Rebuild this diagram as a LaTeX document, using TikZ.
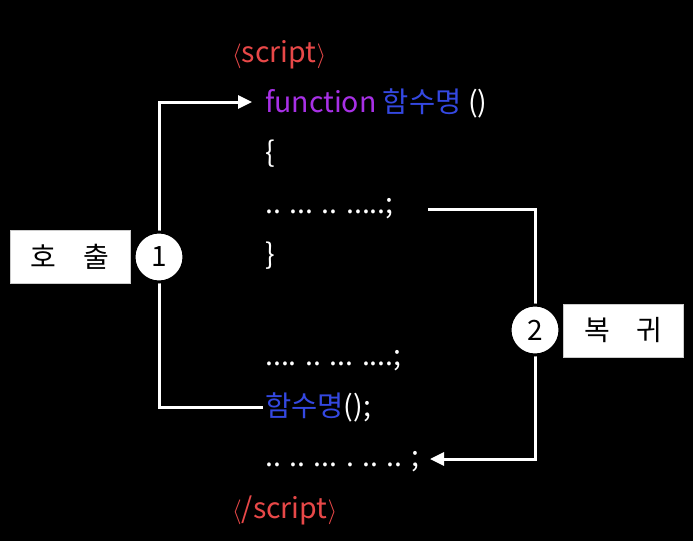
\documentclass[tikz,border=0pt]{standalone}
\usepackage{fontspec}
\setmainfont{Noto Sans CJK KR}
\usetikzlibrary{arrows.meta}
\definecolor{tagred}{RGB}{232,72,72}
\definecolor{fpurple}{RGB}{168,48,230}
\definecolor{fblue}{RGB}{52,72,225}
\begin{document}
\begin{tikzpicture}[x=1pt,y=-1pt]
\fill[black] (0,0) rectangle (693,541);
\useasboundingbox (0,0) rectangle (693,541);
\tikzset{
  code/.style={anchor=base west, inner sep=0pt, font=\fontsize{28.5}{30}\selectfont, text=white},
  conn/.style={draw=white, line width=3pt},
  tip/.style={-{Triangle[length=14pt,width=13pt]}},
  circ/.style={circle, fill=white, draw=black, line width=3pt, minimum size=50pt, inner sep=0pt, font=\fontsize{28}{30}\selectfont, text=black},
  lbl/.style={rectangle, fill=white, draw=gray!40, line width=0.8pt, minimum width=120pt, minimum height=53pt, inner sep=0pt, font=\fontsize{28}{30}\selectfont, text=black}
}
% code lines
\node[code, text=tagred] (s1) at (232,62) {$\langle$script$\rangle$};
\node[code] (fn) at (265,112) {\textcolor{fpurple}{function} \textcolor{fblue}{함수명} ()};
\node[code] (ob) at (265,162) {\{};
\node[code] (d1) at (265,213) {.. ... .. .....;};
\node[code] (cb) at (265,264) {\}};
\node[code] (d2) at (265,365) {.... .. ... ....;};
\node[code] (call) at (265,416) {\textcolor{fblue}{함수명}();};
\node[code] (d3) at (265,466) {.. .. ... . .. .. ;};
\node[code, text=tagred] (s2) at (232,518) {$\langle$/script$\rangle$};
% left connector
\coordinate (a1) at (252,102);
\coordinate (L1) at (159,102);
\coordinate (L2) at (159,407);
\coordinate (c2) at (263,407);
\draw[conn, tip] (c2) -- (L2) -- (L1) -- (a1);
% right connector
\coordinate (r1) at (428,209);
\coordinate (R1) at (535,209);
\coordinate (R2) at (535,459);
\coordinate (a2) at (430,459);
\draw[conn, tip] (r1) -- (R1) -- (R2) -- (a2);
% circles and labels
\node[circ] (n1) at (159,257) {1};
\node[circ] (n2) at (535,330) {2};
\node[lbl] (b1) at (70,256.5) {호\hspace{0.95em}출};
\node[lbl] (b2) at (623.5,330.5) {복\hspace{0.95em}귀};
\end{tikzpicture}
\end{document}
